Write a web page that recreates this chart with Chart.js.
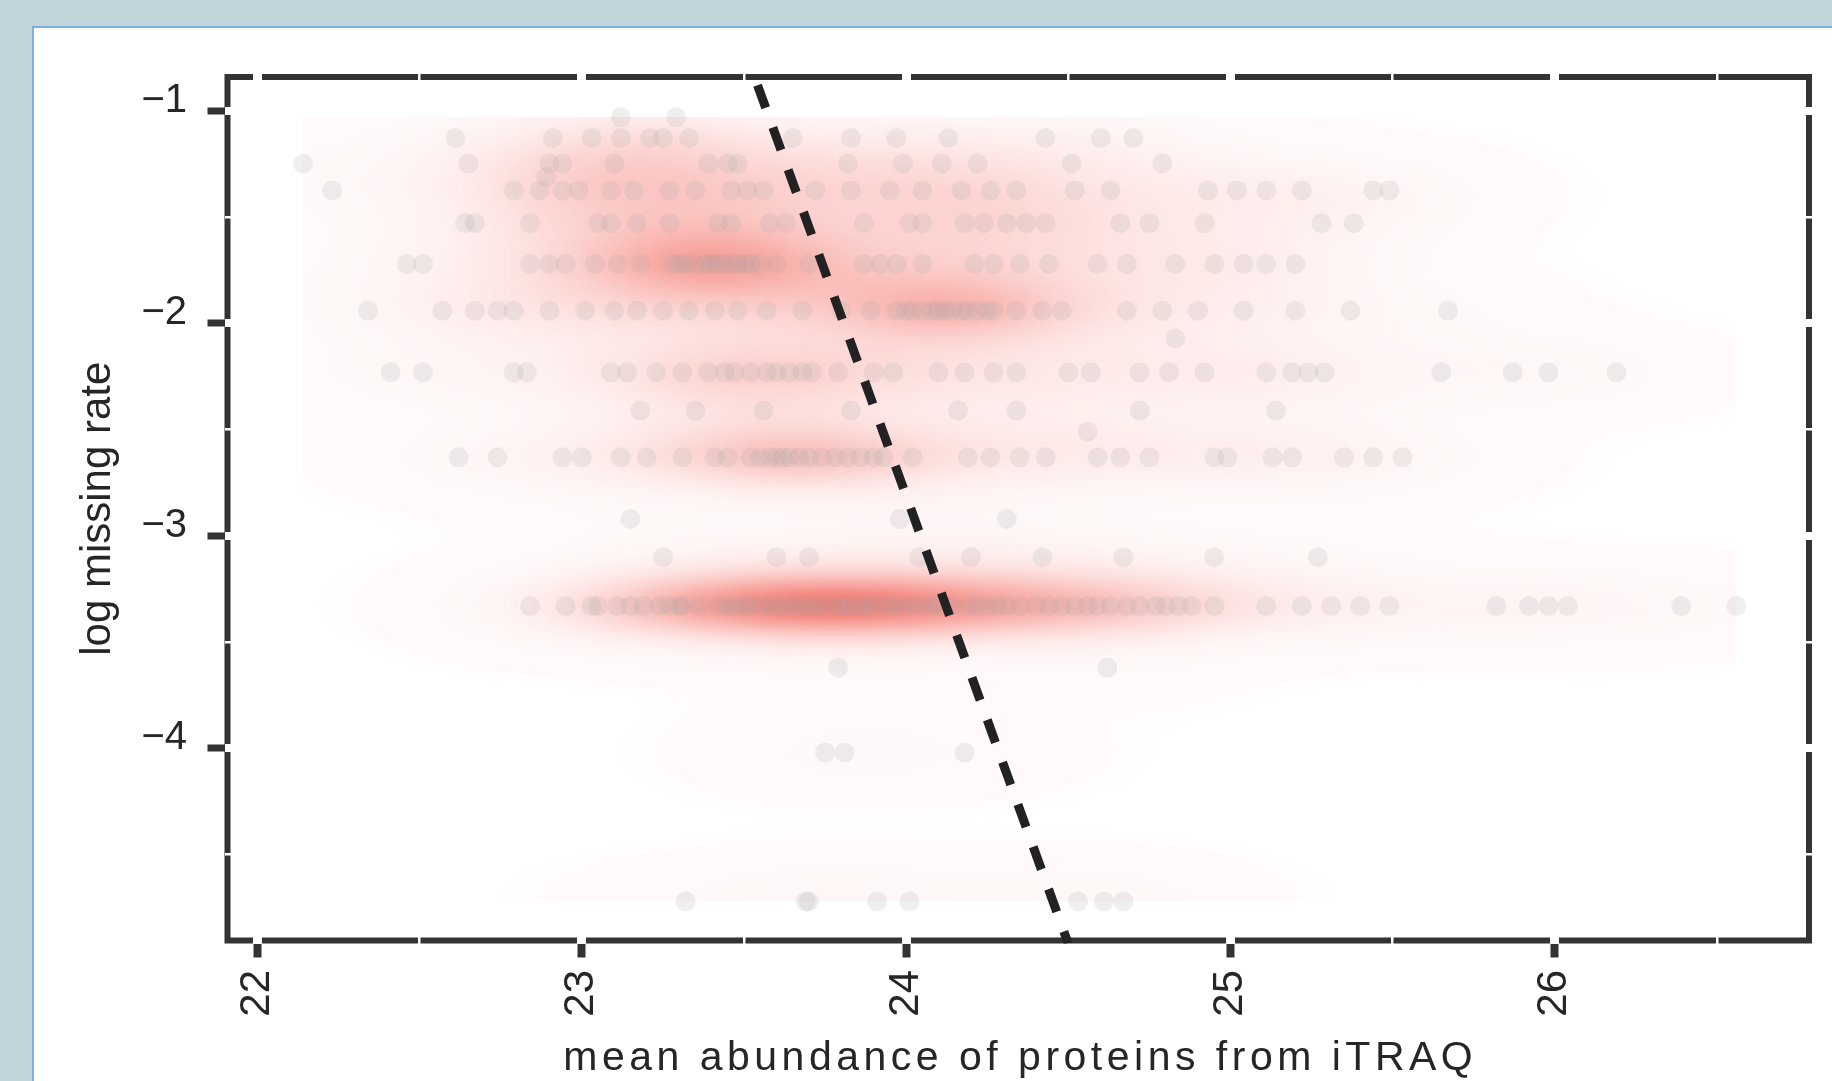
<!DOCTYPE html>
<html>
<head>
<meta charset="utf-8">
<script src="https://cdn.jsdelivr.net/npm/chart.js@4.4.1/dist/chart.umd.min.js"></script>
<style>
  html, body { margin: 0; padding: 0; }
  body { width: 1832px; height: 1081px; background: #c1d5db; position: relative; overflow: hidden; }
  #panel { position: absolute; left: 32px; top: 26px; right: 0; bottom: 0; background: #ffffff;
           border-left: 2px solid #7eaee6; border-top: 2px solid #7eaee6; }
  #chart { position: absolute; left: 0; top: 0; }
</style>
</head>
<body>
<div id="panel"></div>
<canvas id="chart" width="1832" height="1081"></canvas>
<script>
// log missing rate levels (rows of points) and the abundances seen on each row
// (repeated values = stacked points where the dots look darker)
const missingRateLevels = [-1.03, -1.127, -1.247, -1.31, -1.374, -1.528, -1.72, -1.94, -2.07,
  -2.23, -2.41, -2.51, -2.63, -2.92, -3.10, -3.33, -3.62, -4.02, -4.72];

const abundanceByLevel = [
  [23.12, 23.29],
  [22.61, 22.91, 23.03, 23.12, 23.21, 23.25, 23.33, 23.65, 23.83, 23.97, 24.13, 24.43, 24.60, 24.70],
  [22.14, 22.65, 22.90, 22.94, 23.10, 23.39, 23.45, 23.48, 23.82, 23.99, 24.11, 24.22, 24.51, 24.79],
  [22.89],
  [22.23, 22.79, 22.87, 22.94, 22.99, 23.09, 23.16, 23.27, 23.35, 23.46, 23.51, 23.56, 23.72, 23.83,
   23.95, 24.05, 24.17, 24.26, 24.34, 24.52, 24.63, 24.93, 25.02, 25.11, 25.22, 25.44, 25.49],
  [22.64, 22.67, 22.84, 23.05, 23.09, 23.17, 23.27, 23.42, 23.46, 23.58, 23.63, 23.87, 24.01, 24.05,
   24.18, 24.24, 24.31, 24.37, 24.43, 24.66, 24.75, 24.92, 25.28, 25.38],
  [22.46, 22.51, 22.84, 22.90, 22.95, 23.04, 23.11, 23.18, 23.28, 23.30, 23.32, 23.35, 23.38, 23.40,
   23.41, 23.44, 23.46, 23.48, 23.50, 23.52, 23.55, 23.60, 23.70, 23.87, 23.92, 23.97, 24.05, 24.21,
   24.27, 24.35, 24.44, 24.59, 24.68, 24.83, 24.95, 25.04, 25.11, 25.20],
  [22.34, 22.57, 22.67, 22.74, 22.79, 22.90, 23.01, 23.10, 23.17, 23.25, 23.33, 23.41, 23.48, 23.57,
   23.68, 23.80, 23.89, 23.97, 24.00, 24.02, 24.05, 24.08, 24.10, 24.12, 24.14, 24.17, 24.19, 24.22,
   24.25, 24.27, 24.34, 24.42, 24.48, 24.68, 24.79, 24.90, 25.04, 25.20, 25.37, 25.67],
  [24.83],
  [22.41, 22.51, 22.79, 22.83, 23.09, 23.14, 23.23, 23.31, 23.39, 23.44, 23.47, 23.52, 23.57, 23.60,
   23.64, 23.68, 23.71, 23.79, 23.90, 23.96, 24.10, 24.18, 24.27, 24.34, 24.50, 24.57, 24.72, 24.81,
   24.92, 25.11, 25.19, 25.24, 25.29, 25.65, 25.87, 25.98, 26.19],
  [23.18, 23.35, 23.56, 23.83, 24.16, 24.34, 24.72, 25.14],
  [24.56],
  [22.62, 22.74, 22.94, 23.00, 23.12, 23.20, 23.31, 23.41, 23.45, 23.52, 23.55, 23.58, 23.60, 23.62,
   23.64, 23.67, 23.70, 23.74, 23.78, 23.82, 23.86, 23.90, 23.93, 24.02, 24.19, 24.26, 24.35, 24.43,
   24.59, 24.66, 24.75, 24.95, 24.99, 25.13, 25.19, 25.35, 25.44, 25.53],
  [23.15, 23.98, 24.31],
  [23.25, 23.60, 23.70, 24.04, 24.20, 24.42, 24.67, 24.95, 25.27],
  [22.84, 22.95, 23.03, 23.05, 23.11, 23.15, 23.19, 23.24, 23.27, 23.30, 23.31, 23.36, 23.42, 23.45,
   23.47, 23.50, 23.52, 23.55, 23.58, 23.61, 23.63, 23.66, 23.68, 23.71, 23.73, 23.76, 23.79, 23.81,
   23.83, 23.86, 23.88, 23.90, 23.94, 23.96, 23.99, 24.02, 24.05, 24.08, 24.10, 24.14, 24.19, 24.22,
   24.25, 24.28, 24.31, 24.35, 24.40, 24.44, 24.48, 24.52, 24.56, 24.59, 24.63, 24.68, 24.72, 24.77,
   24.80, 24.84, 24.88, 24.95, 25.11, 25.22, 25.31, 25.40, 25.49, 25.82, 25.92, 25.98, 26.04, 26.39,
   26.56],
  [23.79, 24.62],
  [23.75, 23.81, 24.18],
  [23.32, 23.69, 23.70, 23.91, 24.01, 24.53, 24.61, 24.67]
];

// dashed fit line, ends at the panel edges
const lineAbundance = [23.53, 24.50];
const lineLogMissing = [-0.83, -4.92];

const xMajorTicks = [22, 23, 24, 25, 26];
const xMinorTicks = [22.5, 23.5, 24.5, 25.5, 26.5];
const yMajorTicks = [-4, -3, -2, -1];
const yMinorTicks = [-4.5, -3.5, -2.5, -1.5];

const xAxisTitle = "mean abundance of proteins from iTRAQ";
const yAxisTitle = "log missing rate";

const points = [];
missingRateLevels.forEach((y, i) => {
  abundanceByLevel[i].forEach((x) => points.push({ x: x, y: y }));
});

const fontFamily = '"Liberation Sans", Arial, Helvetica, sans-serif';
const isMajor = (v) => Math.abs(v - Math.round(v)) < 1e-6;

// panel border, drawn first so the white grid lines cut through it
const framePlugin = {
  id: "panelFrame",
  beforeDraw: (chart) => {
    const { ctx, chartArea: a } = chart;
    ctx.save();
    ctx.strokeStyle = "#333333";
    ctx.lineWidth = 6;
    ctx.strokeRect(a.left + 3, a.top + 3, a.right - a.left - 6, a.bottom - a.top - 6);
    ctx.restore();
  },
};

// 2d kernel density of the points, shown as a red raster
const bwX = 0.28;
const bwY = 0.13;
let densityImage = null;

function buildDensity() {
  const xs = points.map((p) => p.x);
  const ys = points.map((p) => p.y);
  const x0 = Math.min(...xs), x1 = Math.max(...xs);
  const y0 = Math.min(...ys), y1 = Math.max(...ys);
  const nx = 240, ny = 150;
  const vals = new Float32Array(nx * ny);
  let max = 0;
  for (let j = 0; j < ny; j++) {
    const gy = y1 - ((j + 0.5) * (y1 - y0)) / ny;
    for (let i = 0; i < nx; i++) {
      const gx = x0 + ((i + 0.5) * (x1 - x0)) / nx;
      let s = 0;
      for (const p of points) {
        const dx = (gx - p.x) / bwX;
        const dy = (gy - p.y) / bwY;
        const q = dx * dx + dy * dy;
        if (q < 30) s += Math.exp(-0.5 * q);
      }
      vals[j * nx + i] = s;
      if (s > max) max = s;
    }
  }
  const off = document.createElement("canvas");
  off.width = nx;
  off.height = ny;
  const octx = off.getContext("2d");
  const img = octx.createImageData(nx, ny);
  for (let k = 0; k < vals.length; k++) {
    const dn = vals[k] / max;
    const edge = Math.min(1, Math.max(0, (dn - 0.004) / 0.012));
    const alpha = edge * (0.035 + 0.86 * Math.pow(dn, 1.9));
    img.data[k * 4] = 243;
    img.data[k * 4 + 1] = 105;
    img.data[k * 4 + 2] = 95;
    img.data[k * 4 + 3] = Math.round(Math.min(1, alpha) * 255);
  }
  octx.putImageData(img, 0, 0);
  densityImage = { canvas: off, x0, x1, y0, y1 };
}

const densityPlugin = {
  id: "densityRaster",
  beforeDatasetsDraw: (chart) => {
    if (!densityImage) buildDensity();
    const { ctx, scales } = chart;
    const d = densityImage;
    const left = scales.x.getPixelForValue(d.x0);
    const right = scales.x.getPixelForValue(d.x1);
    const top = scales.y.getPixelForValue(d.y1);
    const bottom = scales.y.getPixelForValue(d.y0);
    ctx.save();
    ctx.imageSmoothingEnabled = true;
    ctx.imageSmoothingQuality = "high";
    ctx.drawImage(d.canvas, left, top, right - left, bottom - top);
    ctx.restore();
  },
};

// x axis title, drawn by hand to get the wide letter spacing
const xTitlePlugin = {
  id: "xTitle",
  afterDraw: (chart) => {
    const { ctx, chartArea: a } = chart;
    ctx.save();
    ctx.font = "41px " + fontFamily;
    ctx.letterSpacing = "4.5px";
    ctx.fillStyle = "#262626";
    ctx.textAlign = "center";
    ctx.textBaseline = "alphabetic";
    ctx.fillText(xAxisTitle, (a.left + a.right) / 2 + 2, a.bottom + 126.5);
    ctx.restore();
  },
};

const chart = new Chart(document.getElementById("chart"), {
  type: "scatter",
  data: {
    datasets: [
      {
        type: "line",
        label: "fit",
        data: lineAbundance.map((x, i) => ({ x: x, y: lineLogMissing[i] })),
        borderColor: "#222222",
        borderWidth: 9,
        borderDash: [24, 21],
        borderDashOffset: 34,
        pointRadius: 0,
        fill: false,
        order: 0,
      },
      {
        label: "proteins",
        data: points,
        pointRadius: 10,
        pointHoverRadius: 10,
        backgroundColor: "rgba(165,165,165,0.18)",
        borderWidth: 0,
        order: 1,
      },
    ],
  },
  options: {
    responsive: false,
    animation: false,
    events: [],
    layout: { padding: { top: 74, right: 20, left: 0, bottom: 0 } },
    plugins: {
      legend: { display: false },
      tooltip: { enabled: false },
    },
    scales: {
      x: {
        type: "linear",
        min: 21.898,
        max: 26.793,
        afterBuildTicks: (axis) => {
          axis.ticks = [...xMajorTicks, ...xMinorTicks].sort((a, b) => a - b).map((v) => ({ value: v }));
        },
        afterFit: (axis) => {
          axis.height = 137.5;
        },
        border: { display: false },
        grid: {
          color: "#ffffff",
          lineWidth: (c) => (c.tick && isMajor(c.tick.value) ? 9 : 2.5),
          tickLength: 14,
          tickWidth: (c) => (c.tick && isMajor(c.tick.value) ? 8 : 2),
          tickColor: (c) => (c.tick && isMajor(c.tick.value) ? "#333333" : "rgba(0,0,0,0)"),
        },
        ticks: {
          color: "#262626",
          font: { family: fontFamily, size: 42 },
          minRotation: 90,
          maxRotation: 90,
          autoSkip: false,
          padding: 12.5,
          callback: (v) => (isMajor(v) ? String(v) : ""),
        },
      },
      y: {
        type: "linear",
        min: -4.918,
        max: -0.826,
        afterBuildTicks: (axis) => {
          axis.ticks = [...yMajorTicks, ...yMinorTicks].sort((a, b) => a - b).map((v) => ({ value: v }));
        },
        afterFit: (axis) => {
          axis.width = 224.5;
        },
        border: { display: false },
        grid: {
          color: "#ffffff",
          lineWidth: (c) => (c.tick && isMajor(c.tick.value) ? 8 : 2.5),
          tickLength: 17,
          tickWidth: (c) => (c.tick && isMajor(c.tick.value) ? 7 : 2),
          tickColor: (c) => (c.tick && isMajor(c.tick.value) ? "#333333" : "rgba(0,0,0,0)"),
        },
        ticks: {
          color: "#262626",
          font: { family: fontFamily, size: 40 },
          autoSkip: false,
          padding: 20.5,
          labelOffset: -10,
          callback: (v) => (isMajor(v) ? "\u2212" + Math.abs(v) : ""),
        },
        title: {
          display: true,
          text: yAxisTitle,
          color: "#262626",
          font: { family: fontFamily, size: 42 },
          padding: { top: 73, bottom: 0 },
        },
      },
    },
  },
  plugins: [framePlugin, densityPlugin, xTitlePlugin],
});
</script>
</body>
</html>
